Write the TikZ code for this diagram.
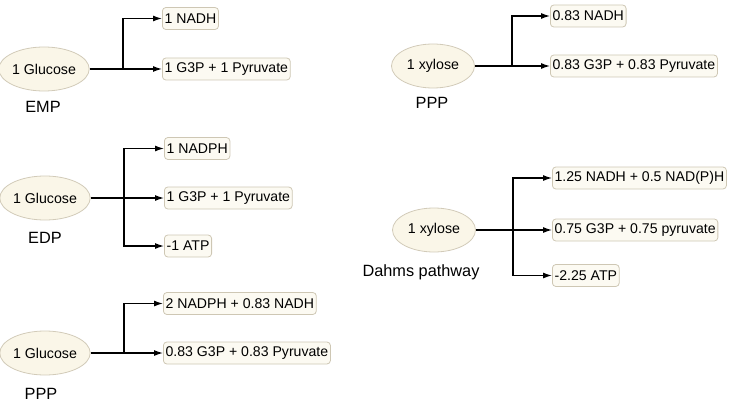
\documentclass[tikz,border=0pt]{standalone}
\usepackage{fontspec}
\setmainfont{Liberation Sans}
\usetikzlibrary{arrows.meta,shapes.geometric}
\definecolor{efill}{HTML}{FAF6E8}
\definecolor{eline}{HTML}{D2CBB9}
\definecolor{bfill}{HTML}{FCFAF2}
\definecolor{bline}{HTML}{CEC7B4}
\tikzset{
  src/.style={ellipse,draw=eline,fill=efill,line width=0.8pt,minimum width=83pt,minimum height=44pt,inner sep=0pt,font=\fontsize{14.2}{16}\selectfont},
  prod/.style={rectangle,rounded corners=3.5pt,draw=bline,fill=bfill,line width=0.8pt,minimum height=22pt,inner xsep=2.2pt,inner ysep=0pt,anchor=west,font=\fontsize{14.1}{16}\selectfont},
  lbl/.style={anchor=base,inner sep=0pt,font=\fontsize{16.3}{18}\selectfont},
  conn/.style={line width=1.2pt,-{Latex[length=9pt,width=6pt]}},
  seg/.style={line width=1.2pt}
}
\begin{document}
\begin{tikzpicture}[x=1pt,y=-1pt]
\useasboundingbox (0,0) rectangle (734,404);
% EMP
\node[src] (g1) at (44,69) {1 Glucose};
\node[lbl] (l1) at (43,113) {EMP};
\coordinate (j1) at (123,69);
\node[prod] (a1) at (162,18.5) {1 NADH};
\node[prod] (a2) at (162,69) {1 G3P + 1 Pyruvate};
\draw[conn] (g1.east) -- (a2.west);
\draw[conn] (j1) |- (a1.west);
% EDP
\node[src] (g2) at (45,198) {1 Glucose};
\node[lbl] (l2) at (45,243) {EDP};
\coordinate (j2) at (124,198);
\node[prod] (b1) at (164,148.5) {1 NADPH};
\node[prod] (b2) at (164,198) {1 G3P + 1 Pyruvate};
\node[prod] (b3) at (164,246) {-1 ATP};
\draw[conn] (g2.east) -- (b2.west);
\draw[conn] (j2) |- (b1.west);
\draw[conn] (j2) |- (b3.west);
% PPP glucose
\node[src] (g3) at (45,353) {1 Glucose};
\node[lbl] (l3) at (41,399) {PPP};
\coordinate (j3) at (124,353);
\node[prod] (c1) at (163,303.5) {2 NADPH + 0.83 NADH};
\node[prod] (c2) at (163,353) {0.83 G3P + 0.83 Pyruvate};
\draw[conn] (g3.east) -- (c2.west);
\draw[conn] (j3) |- (c1.west);
% PPP xylose
\node[src] (x1) at (433,66) {1 xylose};
\node[lbl] (l4) at (432,108) {PPP};
\coordinate (j4) at (512,66);
\node[prod] (d1) at (550,16) {0.83 NADH};
\node[prod] (d2) at (550,66) {0.83 G3P + 0.83 Pyruvate};
\draw[conn] (x1.east) -- (d2.west);
\draw[conn] (j4) |- (d1.west);
% Dahms
\node[src] (x2) at (434,230) {1 xylose};
\node[lbl] (l5) at (421,276) {Dahms pathway};
\coordinate (j5) at (513,230);
\node[prod] (e1) at (552,178) {1.25 NADH + 0.5 NAD(P)H};
\node[prod] (e2) at (552,230) {0.75 G3P + 0.75 pyruvate};
\node[prod] (e3) at (552,275.5) {-2.25 ATP};
\draw[conn] (x2.east) -- (e2.west);
\draw[conn] (j5) |- (e1.west);
\draw[conn] (j5) |- (e3.west);
\end{tikzpicture}
\end{document}
